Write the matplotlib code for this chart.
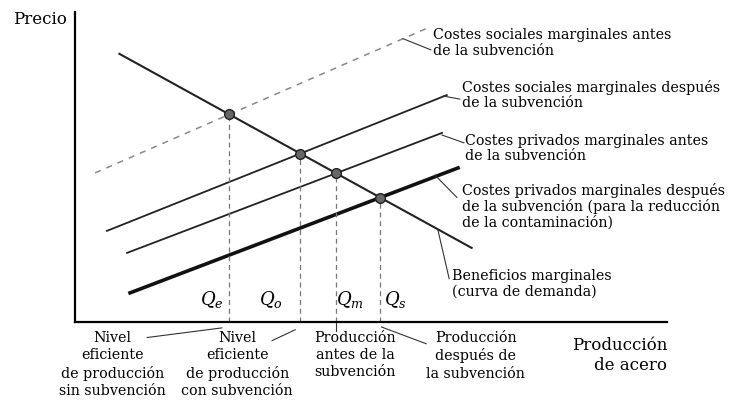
import numpy as np
import matplotlib.pyplot as plt

# curve end points (cantidad, precio)
demanda_q = [0.75, 6.70]
demanda_p = [8.65, 2.39]
cms_antes_q = [0.34, 5.95]
cms_antes_p = [4.81, 9.48]
cms_despues_q = [0.54, 6.28]
cms_despues_p = [2.94, 7.32]
cmp_antes_q = [0.88, 6.20]
cmp_antes_p = [2.23, 6.10]
cmp_despues_q = [0.93, 6.47]
cmp_despues_p = [0.94, 4.97]

q_labels = ['$Q_e$', '$Q_o$', '$Q_m$', '$Q_s$']
bottom_labels = ['Nivel\neficiente\nde producción\nsin subvención',
                 'Nivel\neficiente\nde producción\ncon subvención',
                 'Producción\nantes de la\nsubvención',
                 'Producción\ndespués de\nla subvención']
curve_labels = ['Costes sociales marginales antes\nde la subvención',
                'Costes sociales marginales después\nde la subvención',
                'Costes privados marginales antes\nde la subvención',
                'Costes privados marginales después\nde la subvención (para la reducción\nde la contaminación)',
                'Beneficios marginales\n(curva de demanda)']


def intersect(qa, pa, qb, pb):
    ma = (pa[1] - pa[0]) / (qa[1] - qa[0])
    mb = (pb[1] - pb[0]) / (qb[1] - qb[0])
    q = (pb[0] - mb * qb[0] - pa[0] + ma * qa[0]) / (ma - mb)
    return q, pa[0] + ma * (q - qa[0])


plt.rcParams['font.family'] = 'DejaVu Serif'
plt.rcParams['mathtext.fontset'] = 'dejavuserif'
fig = plt.figure(figsize=(7.29, 4.03), dpi=100)
ax = fig.add_axes([75 / 729, 81 / 403, 592 / 729, 310 / 403])
ax.set_xlim(0, 10)
ax.set_ylim(0, 10)
for s in ['top', 'right']:
    ax.spines[s].set_visible(False)
for s in ['left', 'bottom']:
    ax.spines[s].set_linewidth(1.6)
ax.set_xticks([])
ax.set_yticks([])

ax.plot(cms_antes_q, cms_antes_p, color='#888888', lw=1.1, ls=(0, (4, 4)))
ax.plot(cms_despues_q, cms_despues_p, color='#222222', lw=1.3)
ax.plot(cmp_antes_q, cmp_antes_p, color='#222222', lw=1.3)
ax.plot(cmp_despues_q, cmp_despues_p, color='#111111', lw=2.6)
ax.plot(demanda_q, demanda_p, color='#222222', lw=1.5)

ofert = [(cms_antes_q, cms_antes_p), (cms_despues_q, cms_despues_p),
         (cmp_antes_q, cmp_antes_p), (cmp_despues_q, cmp_despues_p)]
pts = [intersect(demanda_q, demanda_p, q, p) for q, p in ofert]
q_off = [-0.3, -0.5, 0.24, 0.25]
for (q, p), lab, off in zip(pts, q_labels, q_off):
    ax.plot([q, q], [0, p], color='#777777', lw=0.9, ls=(0, (4, 3)))
    ax.plot(q, p, 'o', ms=7, mfc='#666666', mec='#222222', mew=1)
    ax.text(q + off, 0.72, lab, fontsize=13, ha='center', va='center')

ax.text(-0.13, 9.77, 'Precio', fontsize=12, ha='right', va='center', clip_on=False)
ax.text(10.0, -0.5, 'Producción\nde acero', fontsize=12, ha='right', va='top',
        linespacing=1.2, clip_on=False)

# bottom labels and leaders
bx = [0.63, 2.74, 4.73, 6.77]
for x, lab in zip(bx, bottom_labels):
    ax.text(x, -0.28, lab, fontsize=10.3, ha='center', va='top', linespacing=1.3,
            clip_on=False)
ax.plot([1.22, 2.48], [-0.5, -0.19], color='#333333', lw=0.8, clip_on=False)
ax.plot([3.33, 3.72], [-0.6, -0.25], color='#333333', lw=0.8, clip_on=False)
ax.plot([pts[2][0], pts[2][0]], [0, -0.3], color='#333333', lw=0.8, clip_on=False)
ax.plot([pts[3][0] + 0.02, 5.93], [-0.16, -0.7], color='#333333', lw=0.8, clip_on=False)

# curve labels and leaders
lx = [6.05, 6.54, 6.59, 6.54, 6.37]
ly = [9.47, 7.8, 6.08, 4.48, 1.7]
for x, y, lab in zip(lx, ly, curve_labels):
    ax.text(x, y, lab, fontsize=10.3, ha='left', va='top', linespacing=1.1,
            clip_on=False)
ax.plot([5.54, 6.01], [9.14, 8.78], color='#333333', lw=0.8, clip_on=False)
ax.plot([6.22, 6.50], [7.29, 7.19], color='#333333', lw=0.8, clip_on=False)
ax.plot([6.20, 6.57], [6.03, 5.78], color='#333333', lw=0.8, clip_on=False)
ax.plot([6.08, 6.45], [4.74, 4.02], color='#333333', lw=0.8, clip_on=False)
ax.plot([6.13, 6.32], [2.97, 1.4], color='#333333', lw=0.8, clip_on=False)

fig.savefig('out.png', dpi=100)
